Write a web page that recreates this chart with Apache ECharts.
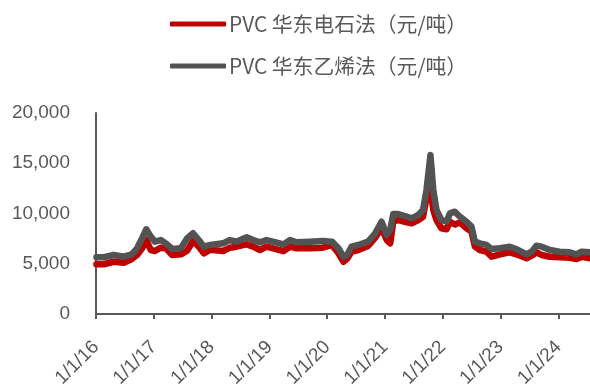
<!DOCTYPE html>
<html>
<head>
<meta charset="utf-8">
<script src="https://cdn.jsdelivr.net/npm/echarts@6/dist/echarts.min.js"></script>
<style>
  html, body { margin: 0; padding: 0; background: #ffffff; }
  #chart { width: 590px; height: 385px; }
</style>
</head>
<body>
<div id="chart"></div>
<script>
// East China PVC spot prices, yuan per tonne
const dates = [
  '2016-01-04','2016-02-20','2016-04-22','2016-06-25','2016-08-15','2016-09-17','2016-10-19','2016-11-14',
  '2016-12-13','2017-01-08','2017-02-14','2017-03-18','2017-04-27','2017-06-21','2017-07-31','2017-09-06',
  '2017-10-12','2017-11-13','2017-12-24','2018-03-14','2018-04-27','2018-06-07','2018-08-10','2018-09-21',
  '2018-11-02','2018-12-14','2019-02-17','2019-03-31','2019-05-12','2019-06-21','2019-09-13','2019-12-05',
  '2020-01-31','2020-03-12','2020-04-13','2020-05-06','2020-06-03','2020-07-16','2020-09-16','2020-10-31',
  '2020-12-10','2021-01-12','2021-02-03','2021-02-22','2021-03-25','2021-05-07','2021-06-18','2021-07-30',
  '2021-08-29','2021-09-20','2021-10-15','2021-11-02','2021-11-22','2021-12-23','2022-01-25','2022-02-15',
  '2022-03-18','2022-04-19','2022-05-31','2022-07-01','2022-07-23','2022-08-23','2022-10-04','2022-11-05',
  '2022-12-28','2023-02-28','2023-04-11','2023-06-14','2023-07-16','2023-08-16','2023-09-17','2023-11-08',
  '2024-01-08','2024-03-12','2024-04-25','2024-05-27','2024-07-19'
];

// 电石法 (calcium carbide route)
const carbideValues = [
  4950, 4950, 5200, 5100, 5470, 5870, 6540, 7360,
  6370, 6270, 6600, 6540, 5870, 5940, 6300, 7260,
  6700, 6040, 6400, 6270, 6600, 6700, 6930, 6700,
  6370, 6700, 6440, 6270, 6700, 6540, 6540, 6600,
  6870, 6040, 5200, 5500, 6200, 6370, 6770, 7600,
  8530, 7360, 7030, 9180, 9350, 9180, 9020, 9350,
  9680, 11500, 12500, 10350, 9350, 8530, 8430, 9180,
  8900, 9100, 8530, 8190, 6700, 6370, 6200, 5700,
  5940, 6140, 5940, 5540, 5800, 6140, 5870, 5700,
  5640, 5600, 5470, 5700, 5540
];

// 乙烯法 (ethylene route)
const ethyleneValues = [
  5640, 5650, 5870, 5700, 5940, 6540, 7530, 8430,
  7700, 7200, 7360, 7030, 6470, 6540, 7530, 8030,
  7360, 6700, 6870, 7030, 7360, 7200, 7630, 7360,
  7130, 7360, 7100, 6930, 7360, 7130, 7200, 7260,
  7200, 6540, 5700, 5870, 6700, 6870, 7200, 8030,
  9180, 7860, 8360, 9950, 9950, 9750, 9520, 9850,
  10350, 12340, 15820, 12340, 10350, 9350, 9180, 10020,
  10180, 9680, 9180, 8690, 7200, 7030, 6870, 6470,
  6540, 6700, 6440, 5940, 6200, 6800, 6700, 6370,
  6200, 6140, 5940, 6200, 6140
];

const seriesNames = ['PVC 华东电石法（元/吨）', 'PVC 华东乙烯法（元/吨）'];
const tickLabels = ['1/1/16','1/1/17','1/1/18','1/1/19','1/1/20','1/1/21','1/1/22','1/1/23','1/1/24'];
const yMin = 0, yMax = 20000, yStep = 5000;

// date string -> fractional year, so each 1 Jan lands on a whole number
function toYear(s) {
  const d = new Date(s + 'T00:00:00Z');
  const y = d.getUTCFullYear();
  const a = Date.UTC(y, 0, 1), b = Date.UTC(y + 1, 0, 1);
  return y + (d.getTime() - a) / (b - a);
}
const xs = dates.map(toYear);
const tickYears = tickLabels.map(t => 2000 + parseInt(t.split('/')[2], 10));
const labelByYear = {};
tickYears.forEach((y, i) => { labelByYear[y] = tickLabels[i]; });

const textColor = '#595959';
const latinFont = '"Liberation Sans", Arial, sans-serif';
const cjkFont = '"Noto Sans CJK SC", "Noto Sans", sans-serif';

const chart = echarts.init(document.getElementById('chart'), null, { renderer: 'canvas' });
chart.setOption({
  animation: false,
  backgroundColor: '#ffffff',
  legend: {
    orient: 'vertical',
    left: 165,
    top: 8,
    itemWidth: 56,
    itemHeight: 5,
    itemGap: 20,
    icon: 'roundRect',
    textStyle: { color: textColor, fontSize: 20.8, fontFamily: cjkFont, lineHeight: 22, padding: [0, 0, 0, -2] },
    data: seriesNames
  },
  grid: { left: 96, right: 0, top: 113, bottom: 71, containLabel: false, outerBoundsMode: 'none' },
  xAxis: {
    type: 'value',
    min: tickYears[0],
    max: toYear(dates[dates.length - 1]),
    interval: 1,
    splitLine: { show: false },
    axisLine: { show: true, lineStyle: { color: textColor, width: 2 } },
    axisTick: { show: true, length: 5, customValues: tickYears, lineStyle: { color: textColor, width: 2 } },
    axisLabel: {
      customValues: tickYears,
      rotate: 45,
      margin: 30,
      padding: [21, 0, 0, 0],
      color: textColor,
      fontSize: 19,
      fontFamily: latinFont,
      formatter: v => labelByYear[Math.round(v)] || ''
    }
  },
  yAxis: {
    type: 'value',
    min: yMin,
    max: yMax,
    interval: yStep,
    splitLine: { show: false },
    axisLine: { show: true, lineStyle: { color: textColor, width: 2 } },
    axisTick: { show: false },
    axisLabel: {
      margin: 26,
      color: textColor,
      fontSize: 19,
      fontFamily: latinFont,
      formatter: v => v.toLocaleString('en-US')
    }
  },
  series: [
    {
      name: seriesNames[0],
      type: 'line',
      showSymbol: false,
      symbol: 'none',
      color: '#C00000',
      lineStyle: { color: '#C00000', width: 6.5, join: 'round', cap: 'round' },
      data: xs.map((x, i) => [x, carbideValues[i]]),
      z: 2
    },
    {
      name: seriesNames[1],
      type: 'line',
      showSymbol: false,
      symbol: 'none',
      color: '#535353',
      lineStyle: { color: '#535353', width: 6.5, join: 'round', cap: 'round' },
      data: xs.map((x, i) => [x, ethyleneValues[i]]),
      z: 3
    }
  ]
});
</script>
</body>
</html>
